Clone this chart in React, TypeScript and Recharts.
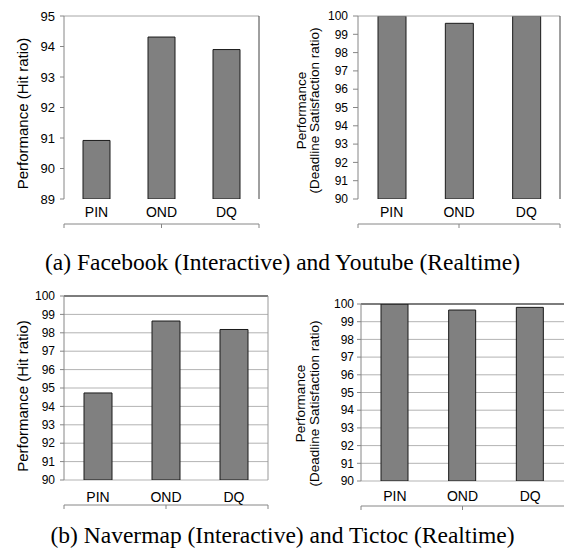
import React from 'react';
import { BarChart, Bar, XAxis, YAxis, CartesianGrid, ReferenceLine } from 'recharts';

const categories = ['PIN', 'OND', 'DQ'];

// hit ratio / deadline satisfaction ratio
const facebookHit = [90.92, 94.31, 93.9];
const youtubeDeadline = [100, 99.6, 100];
const navermapHit = [94.73, 98.64, 98.18];
const tictocDeadline = [100, 99.66, 99.81];

const hitTicksA = [89, 90, 91, 92, 93, 94, 95];
const ratioTicks = [90, 91, 92, 93, 94, 95, 96, 97, 98, 99, 100];

const captionA = '(a) Facebook (Interactive) and Youtube (Realtime)';
const captionB = '(b) Navermap (Interactive) and Tictoc (Realtime)';

const AXIS = '#868686';
const FONT = '"Liberation Sans", Arial, sans-serif';

// rotated y axis title, one or two lines
const AxisTitle = (props: any) => {
  const { viewBox, lines, xs, dy, fontSize } = props;
  const cy = viewBox.y + viewBox.height / 2 + dy;
  return (
    <g>
      {lines.map((line: string, i: number) => {
        const x = viewBox.x + xs[i];
        return (
          <text
            key={i}
            x={x}
            y={cy}
            transform={`rotate(-90, ${x}, ${cy})`}
            textAnchor="middle"
            dominantBaseline="central"
            fontSize={fontSize}
            fontFamily={FONT}
            fill="#000"
          >
            {line}
          </text>
        );
      })}
    </g>
  );
};

interface PanelProps {
  left: number;
  top: number;
  width: number;
  height: number;
  values: number[];
  domain: [number, number];
  ticks: number[];
  margin: { top: number; right: number; bottom: number; left: number };
  yWidth: number;
  tickSize: number;
  tickMargin: number;
  tickFont: number;
  xGap: number;
  barSize: number;
  grid: boolean;
  topColor: string;
  rightColor?: string;
  lines: string[];
  xs: number[];
  dy: number;
  titleFont: number;
}

function Panel(p: PanelProps) {
  const data = categories.map((name, i) => ({ name, value: p.values[i] }));
  return (
    <div style={{ position: 'absolute', left: p.left, top: p.top }}>
      <BarChart width={p.width} height={p.height} data={data} margin={p.margin}>
        {p.grid && (
          <CartesianGrid vertical={false} stroke="#b3b3b3" yAxisId="y" />
        )}
        {/* boundary ticks between categories */}
        <XAxis
          xAxisId="edge"
          type="number"
          domain={[0, 3]}
          ticks={[0, 1, 2, 3]}
          height={1}
          tickFormatter={() => ''}
          tickSize={4}
          tickLine={{ stroke: AXIS }}
          axisLine={{ stroke: AXIS }}
        />
        <XAxis
          dataKey="name"
          height={25}
          tickSize={0}
          tickMargin={p.xGap}
          axisLine={false}
          tickLine={false}
          tick={{ fontSize: 14, fill: '#000', fontFamily: FONT }}
        />
        <YAxis
          yAxisId="y"
          width={p.yWidth}
          domain={p.domain}
          ticks={p.ticks}
          interval={0}
          allowDataOverflow
          tickSize={p.tickSize}
          tickMargin={p.tickMargin}
          axisLine={{ stroke: AXIS }}
          tickLine={{ stroke: AXIS }}
          tick={{ fontSize: p.tickFont, fill: '#000', fontFamily: FONT }}
          label={<AxisTitle lines={p.lines} xs={p.xs} dy={p.dy} fontSize={p.titleFont} />}
        />
        {p.rightColor && (
          <YAxis
            yAxisId="frame"
            orientation="right"
            width={1}
            domain={p.domain}
            tick={false}
            tickLine={false}
            axisLine={{ stroke: p.rightColor }}
          />
        )}
        <ReferenceLine yAxisId="y" y={p.domain[1]} stroke={p.topColor} />
        <Bar
          yAxisId="y"
          dataKey="value"
          fill="#808080"
          stroke="#1a1a1a"
          strokeWidth={1}
          barSize={p.barSize}
          isAnimationActive={false}
        />
      </BarChart>
    </div>
  );
}

const captionStyle: React.CSSProperties = {
  position: 'absolute',
  left: 0,
  width: 565,
  textAlign: 'center',
  fontFamily: '"Liberation Serif", "Times New Roman", serif',
  fontSize: 23.5,
  lineHeight: '24px',
  color: '#000',
  whiteSpace: 'nowrap',
};

export default function App() {
  return (
    <div style={{ position: 'absolute', left: 0, top: 0, width: 565, height: 551, background: '#fff' }}>
      <Panel
        left={0} top={0} width={280} height={235}
        values={facebookHit} domain={[89, 95]} ticks={hitTicksA}
        margin={{ top: 16, right: 20, bottom: 10, left: 0 }}
        yWidth={64} tickSize={4} tickMargin={5} tickFont={13}
        xGap={8} barSize={27} grid={false}
        topColor="#a6a6a6" rightColor="#404040"
        lines={['Performance (Hit ratio)']} xs={[22]} dy={6} titleFont={15}
      />
      <Panel
        left={280} top={0} width={285} height={235}
        values={youtubeDeadline} domain={[90, 100]} ticks={ratioTicks}
        margin={{ top: 16, right: 4, bottom: 10, left: 0 }}
        yWidth={78} tickSize={5} tickMargin={5} tickFont={12}
        xGap={8} barSize={28} grid={false}
        topColor="#a6a6a6" rightColor="#404040"
        lines={['Performance', '(Deadline Satisfaction ratio)']} xs={[21, 34]} dy={3} titleFont={13.5}
      />
      <div style={{ ...captionStyle, top: 250 }}>{captionA}</div>
      <Panel
        left={0} top={280} width={280} height={235}
        values={navermapHit} domain={[90, 100]} ticks={ratioTicks}
        margin={{ top: 16, right: 11, bottom: 9, left: 0 }}
        yWidth={64} tickSize={4} tickMargin={5} tickFont={12}
        xGap={12} barSize={28} grid
        topColor="#202020" rightColor="#999999"
        lines={['Performance (Hit ratio)']} xs={[22]} dy={8} titleFont={15}
      />
      <Panel
        left={280} top={280} width={285} height={235}
        values={tictocDeadline} domain={[90, 100]} ticks={ratioTicks}
        margin={{ top: 24, right: 1, bottom: 8, left: 0 }}
        yWidth={81} tickSize={4} tickMargin={3} tickFont={12}
        xGap={10} barSize={27} grid
        topColor="#202020"
        lines={['Performance', '(Deadline Satisfaction ratio)']} xs={[20, 34]} dy={11} titleFont={13.5}
      />
      <div style={{ ...captionStyle, top: 523 }}>{captionB}</div>
    </div>
  );
}
